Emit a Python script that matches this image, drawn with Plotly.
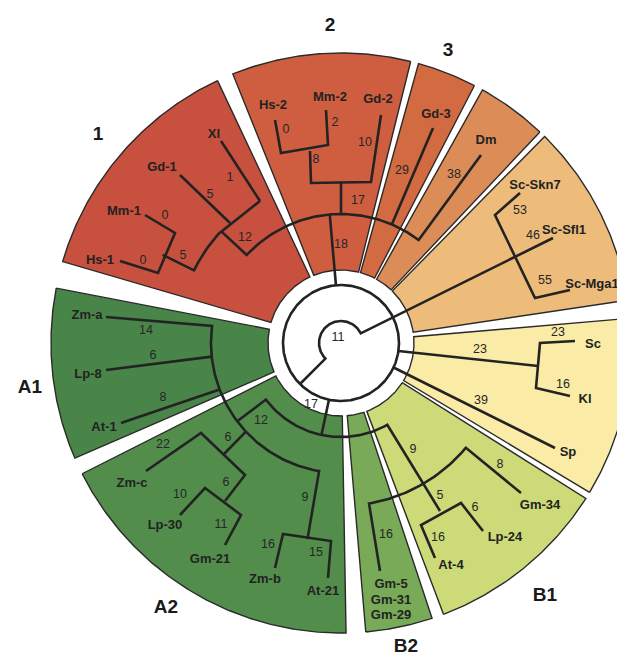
import math
import plotly.graph_objects as go

# ---------------- data ----------------
sector_ids = ["1", "2", "3", "Dm", "Sc", "Y", "B1", "B2", "A2", "A1"]
sector_start_deg = [115.2, 76.1, 62.6, 46.7, 8.5, -31.0, -69.3, -85.1, 206.8, 169.1]
sector_end_deg = [163.7, 111.9, 74.5, 60.8, 45.4, 4.9, -32.4, -71.7, 271.0, 203.4]
sector_colors = ["#C8503E", "#CF5E41", "#D36B42", "#DC8D57", "#EDBB7A",
                 "#FAEBA6", "#CDDA78", "#78AA57", "#528D4C", "#498548"]

clade_labels = ["1", "2", "3", "A1", "A2", "B1", "B2"]

leaf_names = ["Hs-1", "Mm-1", "Gd-1", "Xl", "Hs-2", "Mm-2", "Gd-2", "Gd-3", "Dm",
              "Sc-Skn7", "Sc-Sfl1", "Sc-Mga1", "Sc", "Kl", "Sp", "Gm-34", "Lp-24",
              "At-4", "Gm-5", "Gm-31", "Gm-29", "At-21", "Zm-b", "Gm-21", "Lp-30",
              "Zm-c", "At-1", "Lp-8", "Zm-a"]

branch_values = ["0", "0", "5", "5", "1", "12",
                 "0", "2", "8", "10", "17", "18",
                 "29", "38",
                 "53", "46", "55",
                 "23", "23", "16", "39",
                 "9", "8", "5", "6", "16",
                 "16",
                 "12", "17", "6", "22", "6", "10", "11", "9", "16", "15",
                 "14", "6", "8",
                 "11"]

# ---------------- layout geometry (pixels) ----------------
W, H = 625, 655
CX, CY = 333, 335
R_IN, R_OUT = 73, 290

leaf_pos = [(92, 253), (116, 204), (154, 160), (206, 127), (265, 98), (322, 90),
            (370, 92), (428, 107), (478, 133), (527, 178), (556, 223), (584, 277),
            (585, 337), (577, 392), (560, 445), (532, 498), (497, 530), (443, 558),
            (383, 577), (383, 593), (383, 608), (315, 584), (257, 572), (202, 552),
            (157, 518), (124, 476), (96, 420), (80, 367), (79, 308)]

value_pos = [(135, 253), (157, 208), (175, 248), (202, 187), (222, 170), (237, 230),
             (278, 122), (327, 115), (308, 152), (357, 135), (350, 193), (333, 237),
             (394, 163), (446, 167),
             (512, 203), (525, 228), (537, 273),
             (550, 325), (472, 342), (555, 377), (473, 393),
             (405, 442), (492, 457), (432, 488), (467, 500), (430, 530),
             (378, 527),
             (253, 413), (303, 397), (220, 430), (155, 437), (218, 475), (172, 487),
             (213, 517), (297, 490), (260, 537), (308, 545),
             (138, 323), (145, 348), (155, 390),
             (330, 330)]

clade_pos = [(90, 127), (322, 18), (440, 43), (22, 380), (158, 600), (537, 588), (398, 639)]


def pol(a, r):
    t = math.radians(a)
    return CX + r * math.cos(t), CY - r * math.sin(t)


def arc(r, a0, a1, step=1.0):
    n = max(2, int(abs(a1 - a0) / step) + 1)
    return [pol(a0 + (a1 - a0) * i / (n - 1), r) for i in range(n)]


# tree paths: (x, y) screen points, ('p', angle, r) polar points, ('arc', r, a0, a1)
tree_paths = [
    [(545, 230), ('arc', 22, 26, 225), ('p', 225, 58)],
    [('arc', 58, 0, 360)],
    [('p', 95, 58), ('p', 95, 129)],
    [('p', 137, 164), ('arc', 129, 137, 53), (473, 147)],
    [('p', 66.8, 129), (425, 120)],
    [(252, 193), ('arc', 164, 137, 153.7), ('p', 153.7, 199)],
    [(137, 207), (167, 225), (150, 265), (112, 253)],
    [(172, 167), (222, 215)],
    [(213, 133), (252, 193)],
    [('p', 90, 129), (333, 175)],
    [(373, 107), (363, 174), (303, 175), (302, 143)],
    [(267, 112), (273, 145), (320, 137), (318, 102)],
    [(512, 185), (487, 207), (527, 290), (562, 282)],
    [('p', -8, 58), (530, 358)],
    [(567, 333), (532, 335), (528, 380), (562, 388)],
    [('p', -25, 58), (547, 440)],
    [('p', -102, 58), ('p', -102, 94)],
    [('p', 217, 130), ('arc', 94, 217, 299.5), (432, 503)],
    [(98, 309), ('arc', 130, 172.5, 260.3), ('p', 260.3, 199)],
    [('p', 186, 130), (98, 362)],
    [('p', 201, 130), (113, 415)],
    [('p', 223, 130), (215, 447)],
    [(138, 463), (193, 425), (237, 467), (217, 493)],
    [(172, 507), (197, 480), (233, 507), (217, 537)],
    [(267, 560), (275, 526), (323, 533), (320, 570)],
    [(372, 563), ('arc', 163, 279.9, 320), (513, 485)],
    [(427, 550), (413, 517), (453, 495), (475, 523)],
]

fig = go.Figure()

# sectors
for sid, a0, a1, col in zip(sector_ids, sector_start_deg, sector_end_deg, sector_colors):
    pts = arc(R_OUT, a0, a1, 0.5) + arc(R_IN, a1, a0, 0.5)
    pts.append(pts[0])
    fig.add_trace(go.Scatter(
        x=[p[0] for p in pts], y=[p[1] for p in pts], mode="lines",
        fill="toself", fillcolor=col, line=dict(color="#2a2a2a", width=1.4),
        hoverinfo="skip", name=sid))

# tree lines
xs, ys = [], []
for path in tree_paths:
    for item in path:
        if isinstance(item[0], str) and item[0] == 'arc':
            for p in arc(item[1], item[2], item[3]):
                xs.append(p[0]); ys.append(p[1])
        elif isinstance(item[0], str) and item[0] == 'p':
            p = pol(item[1], item[2])
            xs.append(p[0]); ys.append(p[1])
        else:
            xs.append(item[0]); ys.append(item[1])
    xs.append(None); ys.append(None)
fig.add_trace(go.Scatter(x=xs, y=ys, mode="lines",
                         line=dict(color="#232323", width=2.6),
                         hoverinfo="skip"))

FONT = "Liberation Sans, Arial, sans-serif"
fig.add_trace(go.Scatter(
    x=[p[0] for p in leaf_pos], y=[p[1] for p in leaf_pos], text=leaf_names,
    mode="text", textposition="middle center",
    textfont=dict(family=FONT, size=13, color="#222222", weight="bold"),
    hoverinfo="skip"))
fig.add_trace(go.Scatter(
    x=[p[0] for p in value_pos], y=[p[1] for p in value_pos], text=branch_values,
    mode="text", textposition="middle center",
    textfont=dict(family=FONT, size=12.5, color="#262626"),
    hoverinfo="skip"))
fig.add_trace(go.Scatter(
    x=[p[0] for p in clade_pos], y=[p[1] for p in clade_pos], text=clade_labels,
    mode="text", textposition="middle center",
    textfont=dict(family=FONT, size=19, color="#1a1a1a", weight="bold"),
    hoverinfo="skip"))

fig.update_layout(
    width=W, height=H, margin=dict(l=0, r=0, t=0, b=0),
    paper_bgcolor="white", plot_bgcolor="white", showlegend=False,
    xaxis=dict(range=[0, W], visible=False, fixedrange=True),
    yaxis=dict(range=[H, 0], visible=False, fixedrange=True),
)

fig.write_html("out.html")
